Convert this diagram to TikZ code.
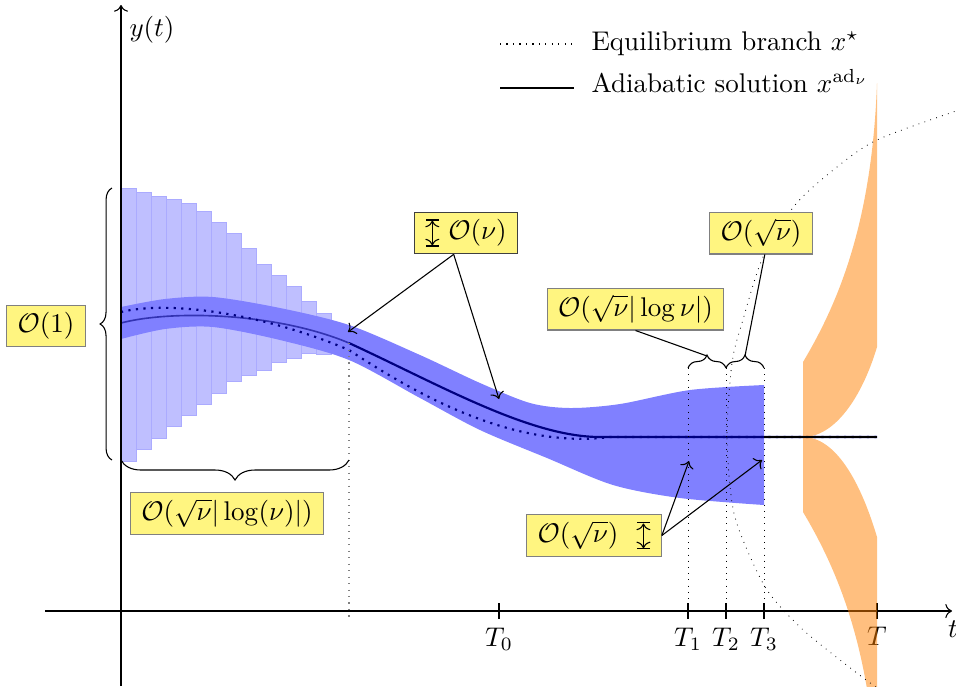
\documentclass[tikz,border=0pt]{standalone}
\usepackage{amsmath,amssymb}
\usepackage{tikz}
\usetikzlibrary{arrows.meta,positioning,decorations.pathreplacing}
\definecolor{notefill}{RGB}{255,245,128}
\newcommand{\vspan}{\tikz[baseline=0pt]\draw[|<->|, thin] (0pt,-2.5pt) -- (0pt,7.5pt);}

\begin{document}
\begin{tikzpicture}[
    x=0.370pt, y=-0.370pt,
    note/.style={draw=gray, fill=notefill, inner xsep=4pt, inner ysep=2.5pt},
    bar/.style={fill=blue!25, draw=blue!33, line width=0.3pt},
    band/.style={fill=blue!50},
    adiab/.style={blue!50!black, thick},
    equil/.style={blue!50!black, dotted, thick},
    guide/.style={dotted, line width=0.3pt},
    brc/.style={decorate, decoration={brace, amplitude=#1}},
    brc/.default=5pt,
    arrow/.style={->, thin}
]
\useasboundingbox (0,0) rectangle (956,686);

\foreach \i/\top/\bot in {0/188/461, 1/192/449, 2/196/438, 3/199/426, 4/203/415, 5/211/404, 6/222/393,
    7/233/381, 8/248/375, 9/264/370, 10/275/362, 11/286/358, 12/301/353, 13/313/354}
    \filldraw[bar] ({121+15*\i},\top) rectangle ({136+15*\i},\bot);

\fill[band] plot[smooth] coordinates {(121,307) (165,299) (213,297) (280,308) (349,325) (420,355) (480,383)
    (530,403) (570,408) (620,404) (690,390) (764,385)}
    -- plot[smooth] coordinates {(764,505) (680,498) (613,485) (547,458)
    (480,430) (420,398) (349,360) (280,340) (213,327) (165,329) (121,339)} -- cycle;

\draw[adiab, semithick, opacity=0.6] (121,323) .. controls (170,310) and (275,312) .. (349,343);
\draw[adiab] (349,343) .. controls (440,385) and (530,437) .. (600,437) -- (877,437);
\draw[equil] (121,312) .. controls (170,300) and (265,314) .. (349,350)
    .. controls (410,390) and (510,450) .. (610,437) -- (877,437);

\draw[gray, dotted] (349,343) -- (349,620);
\foreach \x in {688,726,764}
    \draw[guide] (\x,368) -- (\x,611);

\draw[->] (45,611) -- (952,611);
\draw[->] (121,686) -- (121,5);
\foreach \x in {499,688,726,764,877}
    \draw (\x,603) -- (\x,619);
\node (T0) at (499,639) {$T_0$};
\node (T1) at (688,639) {$T_1$};
\node (T2) at (726,639) {$T_2$};
\node (T3) at (764,639) {$T_3$};
\node (Tend) at (877,636) {$T$};
\node (tlab) at (953,629) {$t$};
\node (ylab) at (152,30) {$y(t)$};

\fill[orange, opacity=0.5] (803,437) -- (803,362) .. controls (840,300) and (872,220) .. (877,83)
    -- (877,347) .. controls (862,397) and (835,437) .. (803,437) -- cycle;
\fill[orange, opacity=0.5] (803,437) -- (803,512) .. controls (840,574) and (872,654) .. (877,791)
    -- (877,537) .. controls (860,480) and (835,437) .. (803,437) -- cycle;
\draw[black, thick] (764,437) -- (877,437);

\draw[guide] plot[smooth] coordinates {(990,100) (953,112) (877,140) (837,167) (795,205) (763,257)
    (742,323) (732,363) (727,435) (732,503) (743,540) (767,590) (800,627) (840,660) (873,685) (890,697)};

\draw[brc=4.4pt] (112,460) -- (112,188);
\draw[brc=7.4pt] (349,460) -- (121,460);
\draw[brc=4.8pt] (688,368) -- (726,368);
\draw[brc=4.8pt] (726,368) -- (764,368);

\node[note] (one) at (46,326) {$\mathcal{O}(1)$};
\node[note] (sqlog) at (227,513.5) {$\mathcal{O}(\sqrt{\nu}|\log(\nu)|)$};
\node[note, draw=black!75] (nu) at (466,233) {\vspan\ $\mathcal{O}(\nu)$};
\node[note] (lognu) at (635.5,309) {$\mathcal{O}(\sqrt{\nu}|\log\nu|)$};
\node[note] (sqnu) at (761,233) {$\mathcal{O}(\sqrt{\nu})$};
\node[note] (sqnub) at (594,535.5) {$\mathcal{O}(\sqrt{\nu})$\ \ \vspan};

\coordinate (nuA) at (348,332);
\coordinate (nuB) at (499,399);
\coordinate (brA) at (707,356);
\coordinate (brB) at (745,356);
\coordinate (spA) at (689,461);
\coordinate (spB) at (762,460);
\draw[arrow] (nu.-120) -- (nuA);
\draw[arrow] (nu.-120) -- (nuB);
\draw (lognu.south) -- (brA);
\draw (sqnu.-80) -- (brB);
\draw[arrow] (sqnub.east) -- (spA);
\draw[arrow] (sqnub.east) -- (spB);

\draw[dotted] (500,44) -- (574,44);
\draw (500,88) -- (574,88);
\node[anchor=base west] (eqleg) at (582,50) {Equilibrium branch $x^\star$};
\node[anchor=base west] (adleg) at (582,92) {Adiabatic solution $x^{\mathrm{ad}_\nu}$};
\end{tikzpicture}
\end{document}
